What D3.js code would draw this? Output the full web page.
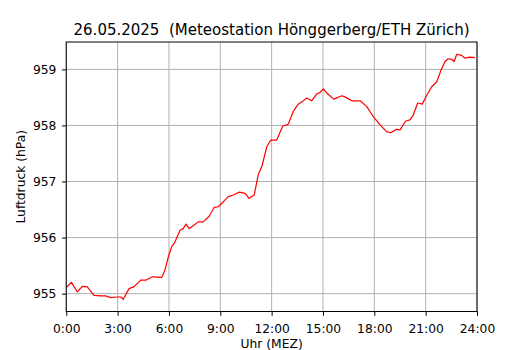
<!DOCTYPE html>
<html>
<head>
<meta charset="utf-8">
<script src="https://cdn.jsdelivr.net/npm/d3@7"></script>
<style>
    body { margin: 0; background: #fff; }
    text { font-family: "DejaVu Sans", sans-serif; fill: #000; }
</style>
</head>
<body>
<div id="chart"></div>
<script>

// time of reading (minutes after midnight) and air pressure in hPa
const times = [0, 18, 39, 56, 74, 97, 121, 138, 156, 177, 191, 200, 220, 237, 261, 279,
    302, 335, 346, 358, 370, 381, 399, 410, 420, 431, 445, 463, 480, 501, 519, 533,
    551, 568, 586, 607, 627, 641, 659, 673, 687, 703, 717, 738, 759, 778, 796, 813,
    829, 843, 860, 878, 890, 901, 913, 938, 966, 977, 1001, 1030, 1053, 1076, 1100,
    1123, 1137, 1158, 1170, 1190, 1205, 1217, 1232, 1248, 1264, 1281, 1299, 1314,
    1328, 1339, 1351, 1360, 1369, 1386, 1398, 1415, 1433];

const pressure = [955.11, 955.20, 955.03, 955.13, 955.12, 954.97, 954.96, 954.96, 954.93, 954.94,
    954.94, 954.90, 955.09, 955.12, 955.24, 955.24, 955.30, 955.29, 955.42, 955.66,
    955.84, 955.92, 956.13, 956.16, 956.24, 956.16, 956.21, 956.28, 956.28, 956.38,
    956.54, 956.55, 956.64, 956.73, 956.76, 956.81, 956.79, 956.70, 956.76, 957.12,
    957.29, 957.62, 957.74, 957.74, 957.99, 958.02, 958.25, 958.38, 958.43, 958.49,
    958.44, 958.56, 958.59, 958.65, 958.58, 958.47, 958.53, 958.51, 958.44, 958.44,
    958.34, 958.16, 958.01, 957.89, 957.87, 957.93, 957.92, 958.08, 958.10, 958.19,
    958.40, 958.38, 958.54, 958.69, 958.78, 958.99, 959.14, 959.19, 959.18, 959.14,
    959.27, 959.25, 959.20, 959.22, 959.21];

const xTicks = [0, 3, 6, 9, 12, 15, 18, 21, 24]; // hours
const yTicks = [955, 956, 957, 958, 959];

const title = "26.05.2025  (Meteostation Hönggerberg/ETH Zürich)";

const data = times.map((t, i) => ({ hour: t / 60, value: pressure[i] }));

const height = 350,
    width = 530,
    margin = ({ top: 42, right: 53, bottom: 38.5, left: 66.25 });

let svg = d3.select("#chart")
    .append("svg")
    .attr("width", width)
    .attr("height", height)
    .attr("viewBox", [0, 0, width, height]);

let x = d3.scaleLinear()
    .domain([0, 24])
    .range([margin.left, width - margin.right]);

// matplotlib-like 5% padding around the data
let [lo, hi] = d3.extent(data, d => d.value);
let pad = (hi - lo) * 0.05;
let y = d3.scaleLinear()
    .domain([lo - pad, hi + pad])
    .range([height - margin.bottom, margin.top]);

// grid
svg.append("g")
    .selectAll("line")
    .data(xTicks)
    .join("line")
    .attr("x1", d => x(d)).attr("x2", d => x(d))
    .attr("y1", margin.top).attr("y2", height - margin.bottom)
    .attr("stroke", "#b0b0b0")
    .attr("stroke-width", 1);

svg.append("g")
    .selectAll("line")
    .data(yTicks)
    .join("line")
    .attr("x1", margin.left).attr("x2", width - margin.right)
    .attr("y1", d => y(d)).attr("y2", d => y(d))
    .attr("stroke", "#b0b0b0")
    .attr("stroke-width", 1);

// axes
let xAxis = svg.append("g")
    .attr("transform", `translate(0,${height - margin.bottom})`)
    .call(d3.axisBottom(x)
        .tickValues(xTicks)
        .tickFormat(d => d + ":00")
        .tickSize(4.3)
        .tickPadding(4.3)
        .tickSizeOuter(0));

let yAxis = svg.append("g")
    .attr("transform", `translate(${margin.left},0)`)
    .call(d3.axisLeft(y)
        .tickValues(yTicks)
        .tickFormat(d3.format("d"))
        .tickSize(4.3)
        .tickPadding(5.5)
        .tickSizeOuter(0));

for (let ax of [xAxis, yAxis]) {
    ax.select(".domain").remove();
    ax.selectAll(".tick line").attr("stroke", "#000").attr("stroke-width", 1);
    ax.selectAll(".tick text")
        .style("font-family", "DejaVu Sans")
        .style("font-size", "12.3px");
}
xAxis.selectAll(".tick text").attr("dy", null).attr("y", 21.6);

// pressure line
let line = d3.line()
    .x(d => x(d.hour))
    .y(d => y(d.value));

svg.append("path")
    .datum(data)
    .attr("fill", "none")
    .attr("stroke", "red")
    .attr("stroke-width", 1.2)
    .attr("stroke-linejoin", "round")
    .attr("d", line);

// frame
svg.append("rect")
    .attr("x", margin.left)
    .attr("y", margin.top)
    .attr("width", width - margin.right - margin.left)
    .attr("height", height - margin.bottom - margin.top)
    .attr("fill", "none")
    .attr("stroke", "#000")
    .attr("stroke-width", 1);

// labels
svg.append("text")
    .attr("text-anchor", "middle")
    .attr("x", (margin.left + width - margin.right) / 2)
    .attr("y", 34.5)
    .style("font-size", "15px")
    .style("white-space", "pre")
    .attr("xml:space", "preserve")
    .text(title);

svg.append("text")
    .attr("text-anchor", "middle")
    .attr("x", (margin.left + width - margin.right) / 2)
    .attr("y", 347.5)
    .style("font-size", "12.3px")
    .text("Uhr (MEZ)");

svg.append("text")
    .attr("text-anchor", "middle")
    .attr("transform", `translate(24.5,${(margin.top + height - margin.bottom) / 2}) rotate(-90)`)
    .style("font-size", "12.3px")
    .text("Luftdruck (hPa)");

</script>
</body>
</html>
